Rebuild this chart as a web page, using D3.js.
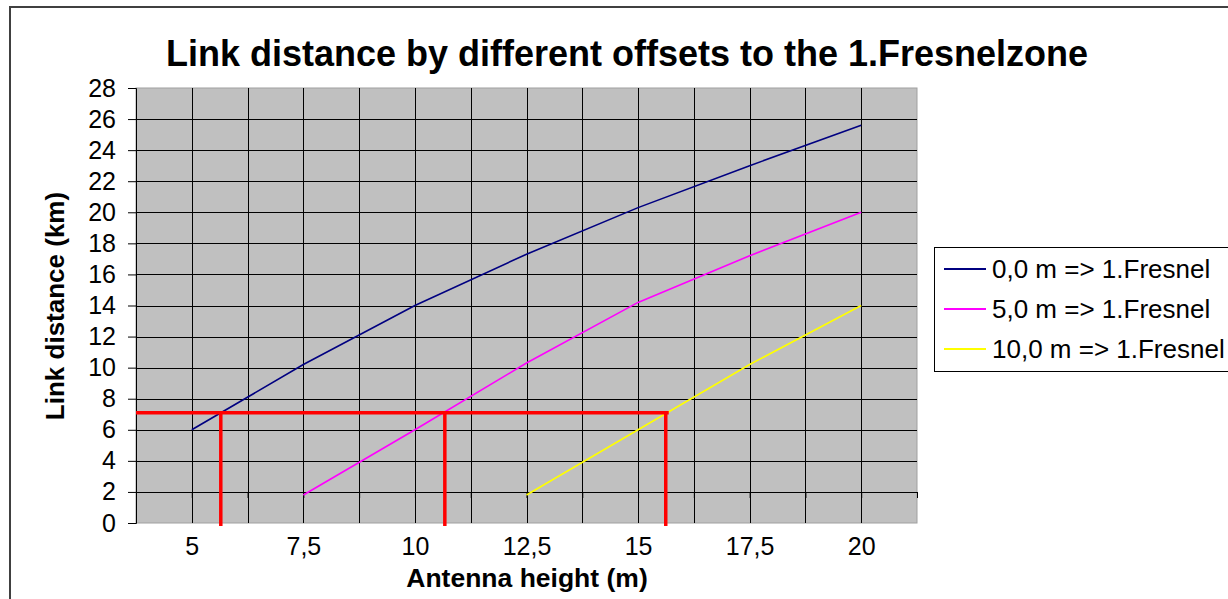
<!DOCTYPE html>
<html>
<head>
<meta charset="utf-8">
<script src="https://cdn.jsdelivr.net/npm/d3@7"></script>
<style>
body { margin: 0; background: #fff; }
text { font-family: "Liberation Sans", Arial, sans-serif; }
</style>
</head>
<body>
<div id="chart"></div>
<script>
// antenna heights (m), categories on the x axis
var heights = [5, 7.5, 10, 12.5, 15, 17.5, 20];
var xTickLabels = ["5", "7,5", "10", "12,5", "15", "17,5", "20"];
var yTicks = [0, 2, 4, 6, 8, 10, 12, 14, 16, 18, 20, 22, 24, 26, 28];

// link distance (km) per offset
var names = ["0,0 m => 1.Fresnel", "5,0 m => 1.Fresnel", "10,0 m => 1.Fresnel"];
var colors = ["#000080", "#ff00ff", "#ffff00"];
var dist0 = [6.0, 10.2, 14.0, 17.3, 20.3, 23.0, 25.6];
var dist5 = [null, 1.8, 6.0, 10.3, 14.2, 17.2, 20.0];
var dist10 = [null, null, null, 1.8, 6.0, 10.2, 14.0];

// red helper lines: required distance and the heights where it is reached
var targetDist = 7.1;
var targetHeights = [5.65, 10.67, 15.62];

var W = 1228, H = 599;
var margin = { top: 88, left: 136, right: 1228 - 917, bottom: 599 - 523 };
var width = W - margin.left - margin.right;
var height = H - margin.top - margin.bottom;

var svg = d3.select("#chart").append("svg")
    .attr("width", W)
    .attr("height", H);

// outer chart border
svg.append("rect")
    .attr("x", 10).attr("y", 7)
    .attr("width", W).attr("height", H)
    .attr("fill", "none")
    .attr("stroke", "#404040")
    .attr("stroke-width", 2);

svg.append("text")
    .attr("x", 627).attr("y", 66)
    .attr("text-anchor", "middle")
    .style("font-size", "36px")
    .style("font-weight", "bold")
    .text("Link distance by different offsets to the 1.Fresnelzone");

var g = svg.append("g")
    .attr("transform", "translate(" + margin.left + "," + margin.top + ")");

var x = d3.scaleLinear().domain([3.75, 21.25]).range([0, width]);
var y = d3.scaleLinear().domain([0, 28]).range([height, 0]);

g.append("rect")
    .attr("width", width).attr("height", height)
    .attr("fill", "#c0c0c0")
    .attr("stroke", "#a0a0a0");

// grid lines: every half category vertically, every 2 km horizontally
var vGrid = d3.range(5, 20.01, 1.25);
g.selectAll(".vgrid").data(vGrid).enter().append("line")
    .attr("x1", function(d) { return Math.round(x(d)) + 0.5; })
    .attr("x2", function(d) { return Math.round(x(d)) + 0.5; })
    .attr("y1", 0).attr("y2", height)
    .attr("stroke", "#000");

g.selectAll(".hgrid").data(yTicks.filter(function(d) { return d > 0 && d < 28; })).enter().append("line")
    .attr("x1", 0).attr("x2", width)
    .attr("y1", function(d) { return Math.round(y(d)) + 0.5; })
    .attr("y2", function(d) { return Math.round(y(d)) + 0.5; })
    .attr("stroke", "#000");

// y axis
var yAxis = d3.axisLeft(y).tickValues(yTicks).tickSize(8).tickPadding(12);
var yg = g.append("g").call(yAxis);
yg.select(".domain").attr("stroke", "#000");
yg.selectAll("text").style("font-size", "25px").attr("fill", "#000")
    .style("font-family", "'Liberation Sans', Arial, sans-serif");

// x axis line crosses at 2 km, ticks at category boundaries
var xAxis = d3.axisBottom(x).tickValues(d3.range(3.75, 21.26, 1.25)).tickSize(6).tickFormat("");
var xg = g.append("g").attr("transform", "translate(0," + Math.round(y(2)) + ")").call(xAxis);
xg.select(".domain").attr("stroke", "#000");

// x tick labels below the plot
var xl = g.append("g").attr("transform", "translate(0," + height + ")")
    .call(d3.axisBottom(x).tickValues(heights).tickSize(0).tickPadding(14)
        .tickFormat(function(d, i) { return xTickLabels[i]; }));
xl.select(".domain").remove();
xl.selectAll("text").style("font-size", "25px").attr("fill", "#000")
    .style("font-family", "'Liberation Sans', Arial, sans-serif");

// axis titles
svg.append("text")
    .attr("x", 527).attr("y", 587)
    .attr("text-anchor", "middle")
    .style("font-size", "26.5px").style("font-weight", "bold")
    .text("Antenna height (m)");

svg.append("text")
    .attr("transform", "translate(64,306) rotate(-90)")
    .attr("text-anchor", "middle")
    .style("font-size", "26px").style("font-weight", "bold")
    .text("Link distance (km)");

// series lines
var series = [dist0, dist5, dist10];
var line = d3.line()
    .defined(function(d) { return d.v != null; })
    .x(function(d) { return x(d.h); })
    .y(function(d) { return y(d.v); });

series.forEach(function(s, i) {
    g.append("path")
        .datum(heights.map(function(h, j) { return { h: h, v: s[j] }; }))
        .attr("d", line)
        .attr("fill", "none")
        .attr("stroke", colors[i])
        .attr("stroke-width", 1.6);
});

// red marker lines
g.append("line")
    .attr("x1", 0).attr("x2", x(targetHeights[2]) + 3)
    .attr("y1", y(targetDist)).attr("y2", y(targetDist))
    .attr("stroke", "#ff0000").attr("stroke-width", 3.5);

g.selectAll(".vred").data(targetHeights).enter().append("line")
    .attr("x1", function(d) { return x(d); })
    .attr("x2", function(d) { return x(d); })
    .attr("y1", y(targetDist)).attr("y2", height + 3)
    .attr("stroke", "#ff0000").attr("stroke-width", 3.5);

// legend
var lg = svg.append("g").attr("transform", "translate(934,247)");
lg.append("rect")
    .attr("x", 0.5).attr("y", 0.5)
    .attr("width", 320).attr("height", 124)
    .attr("fill", "#fff").attr("stroke", "#000");

names.forEach(function(n, i) {
    var yy = 22 + i * 40;
    lg.append("line")
        .attr("x1", 10).attr("x2", 52)
        .attr("y1", yy).attr("y2", yy)
        .attr("stroke", colors[i]).attr("stroke-width", 2);
    lg.append("text")
        .attr("x", 58).attr("y", yy + 9)
        .style("font-size", "26px")
        .text(n);
});
</script>
</body>
</html>
